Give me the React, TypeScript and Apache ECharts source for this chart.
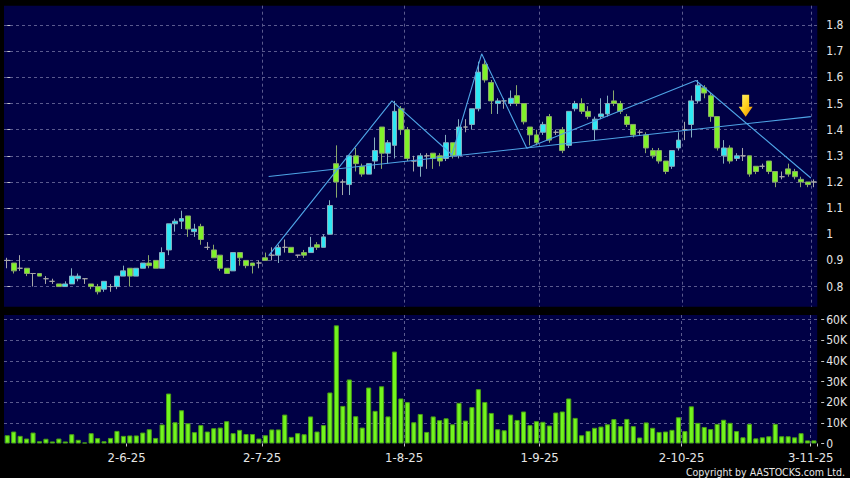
import React, { useEffect, useRef } from 'react';
import * as echarts from 'echarts';

// ---------- data ----------
const dates: string[] = [
  '6-5-25', '7-5-25', '8-5-25', '9-5-25', '12-5-25', '13-5-25', '14-5-25', '15-5-25', '16-5-25', '19-5-25',
  '20-5-25', '21-5-25', '22-5-25', '23-5-25', '26-5-25', '27-5-25', '28-5-25', '29-5-25', '30-5-25',
  '2-6-25', '3-6-25', '4-6-25', '5-6-25', '6-6-25', '9-6-25', '10-6-25', '11-6-25', '12-6-25', '13-6-25',
  '16-6-25', '17-6-25', '18-6-25', '19-6-25', '20-6-25', '23-6-25', '24-6-25', '25-6-25', '26-6-25', '27-6-25', '30-6-25',
  '2-7-25', '3-7-25', '4-7-25', '7-7-25', '8-7-25', '9-7-25', '10-7-25', '11-7-25', '14-7-25', '15-7-25',
  '16-7-25', '17-7-25', '18-7-25', '21-7-25', '22-7-25', '23-7-25', '24-7-25', '25-7-25', '28-7-25', '29-7-25', '30-7-25', '31-7-25',
  '1-8-25', '4-8-25', '5-8-25', '6-8-25', '7-8-25', '8-8-25', '11-8-25', '12-8-25', '13-8-25', '14-8-25',
  '15-8-25', '18-8-25', '19-8-25', '20-8-25', '21-8-25', '22-8-25', '25-8-25', '26-8-25', '27-8-25', '28-8-25', '29-8-25',
  '1-9-25', '2-9-25', '3-9-25', '4-9-25', '5-9-25', '8-9-25', '9-9-25', '10-9-25', '11-9-25', '12-9-25',
  '15-9-25', '16-9-25', '17-9-25', '18-9-25', '19-9-25', '22-9-25', '23-9-25', '24-9-25', '25-9-25', '26-9-25', '29-9-25', '30-9-25',
  '2-10-25', '3-10-25', '6-10-25', '8-10-25', '9-10-25', '10-10-25', '13-10-25', '14-10-25', '15-10-25', '16-10-25',
  '17-10-25', '20-10-25', '21-10-25', '22-10-25', '23-10-25', '24-10-25', '27-10-25', '28-10-25', '30-10-25', '31-10-25',
  '3-11-25',
];

const tickDates: string[] = ['2-6-25', '2-7-25', '1-8-25', '1-9-25', '2-10-25', '3-11-25'];

const opens: number[] = [
  0.90, 0.89, 0.87, 0.87, 0.85, 0.85, 0.83, 0.82, 0.81, 0.80,
  0.81, 0.83, 0.83, 0.81, 0.80, 0.79, 0.80, 0.80, 0.84, 0.87,
  0.84, 0.87, 0.89, 0.90, 0.87, 0.94, 1.04, 1.05, 1.07, 1.01,
  1.03, 0.95, 0.94, 0.92, 0.87, 0.86, 0.93, 0.90, 0.89, 0.89,
  0.91, 0.92, 0.92, 0.95, 0.95, 0.92, 0.93, 0.93, 0.96, 0.95,
  1.00, 1.27, 1.20, 1.19, 1.30, 1.26, 1.23, 1.28, 1.41, 1.31,
  1.34, 1.48, 1.40, 1.28, 1.26, 1.30, 1.31, 1.30, 1.29, 1.35,
  1.30, 1.41, 1.42, 1.48, 1.65, 1.58, 1.50, 1.51, 1.50, 1.53,
  1.50, 1.41, 1.38, 1.39, 1.45, 1.39, 1.40, 1.34, 1.48, 1.50,
  1.47, 1.40, 1.45, 1.46, 1.51, 1.50, 1.45, 1.42, 1.39, 1.38,
  1.32, 1.32, 1.28, 1.26, 1.33, 1.40, 1.42, 1.51, 1.56, 1.53,
  1.45, 1.30, 1.33, 1.29, 1.30, 1.30, 1.26, 1.26, 1.28, 1.24,
  1.22, 1.25, 1.24, 1.21, 1.20, 1.20,
];

const closes: number[] = [
  0.90, 0.86, 0.87, 0.85, 0.85, 0.84, 0.83, 0.82, 0.80, 0.81,
  0.84, 0.84, 0.83, 0.80, 0.78, 0.82, 0.80, 0.84, 0.86, 0.84,
  0.87, 0.89, 0.88, 0.87, 0.93, 1.04, 1.05, 1.06, 1.02, 1.02,
  0.98, 0.95, 0.91, 0.87, 0.85, 0.93, 0.91, 0.88, 0.88, 0.89,
  0.90, 0.92, 0.95, 0.95, 0.93, 0.92, 0.92, 0.95, 0.95, 0.99,
  1.11, 1.20, 1.20, 1.30, 1.27, 1.23, 1.27, 1.32, 1.31, 1.35,
  1.47, 1.40, 1.29, 1.28, 1.30, 1.30, 1.29, 1.28, 1.35, 1.30,
  1.41, 1.41, 1.48, 1.62, 1.59, 1.51, 1.51, 1.51, 1.52, 1.50,
  1.43, 1.38, 1.35, 1.42, 1.36, 1.39, 1.32, 1.47, 1.50, 1.47,
  1.45, 1.44, 1.46, 1.50, 1.50, 1.47, 1.42, 1.38, 1.39, 1.33,
  1.30, 1.28, 1.24, 1.32, 1.36, 1.40, 1.51, 1.57, 1.54, 1.45,
  1.33, 1.33, 1.28, 1.30, 1.30, 1.23, 1.24, 1.26, 1.24, 1.20,
  1.22, 1.23, 1.22, 1.20, 1.19, 1.20,
];

const lows: number[] = [
  0.87, 0.85, 0.86, 0.84, 0.80, 0.84, 0.81, 0.81, 0.80, 0.80,
  0.81, 0.82, 0.81, 0.79, 0.77, 0.78, 0.78, 0.79, 0.84, 0.80,
  0.84, 0.87, 0.87, 0.87, 0.87, 0.92, 1.01, 1.02, 0.99, 0.99,
  0.96, 0.94, 0.91, 0.86, 0.85, 0.86, 0.88, 0.87, 0.85, 0.87,
  0.90, 0.90, 0.89, 0.93, 0.93, 0.91, 0.91, 0.93, 0.94, 0.95,
  1.00, 1.14, 1.15, 1.15, 1.24, 1.22, 1.23, 1.25, 1.25, 1.27,
  1.29, 1.38, 1.28, 1.24, 1.22, 1.25, 1.25, 1.26, 1.28, 1.29,
  1.29, 1.39, 1.40, 1.47, 1.58, 1.46, 1.46, 1.48, 1.49, 1.49,
  1.42, 1.34, 1.34, 1.38, 1.35, 1.38, 1.31, 1.33, 1.47, 1.46,
  1.44, 1.36, 1.44, 1.45, 1.49, 1.46, 1.41, 1.37, 1.38, 1.31,
  1.29, 1.27, 1.23, 1.25, 1.32, 1.36, 1.37, 1.50, 1.52, 1.43,
  1.32, 1.27, 1.27, 1.28, 1.28, 1.22, 1.23, 1.25, 1.23, 1.18,
  1.21, 1.22, 1.21, 1.18, 1.18, 1.18,
];

const highs: number[] = [
  0.91, 0.89, 0.92, 0.87, 0.85, 0.85, 0.84, 0.83, 0.81, 0.82,
  0.87, 0.85, 0.83, 0.81, 0.81, 0.82, 0.81, 0.84, 0.88, 0.87,
  0.87, 0.89, 0.92, 0.90, 0.95, 1.04, 1.06, 1.09, 1.07, 1.04,
  1.04, 0.97, 0.96, 0.92, 0.87, 0.93, 0.93, 0.90, 0.89, 0.90,
  0.93, 0.95, 0.96, 0.98, 0.95, 0.92, 0.94, 0.99, 0.97, 1.00,
  1.13, 1.34, 1.21, 1.30, 1.33, 1.27, 1.27, 1.37, 1.41, 1.36,
  1.51, 1.49, 1.41, 1.30, 1.31, 1.31, 1.31, 1.31, 1.38, 1.35,
  1.44, 1.44, 1.48, 1.66, 1.67, 1.59, 1.52, 1.52, 1.55, 1.57,
  1.50, 1.41, 1.40, 1.43, 1.46, 1.40, 1.41, 1.47, 1.51, 1.52,
  1.49, 1.45, 1.52, 1.53, 1.55, 1.51, 1.46, 1.42, 1.40, 1.39,
  1.33, 1.33, 1.28, 1.32, 1.39, 1.43, 1.53, 1.59, 1.57, 1.54,
  1.45, 1.36, 1.34, 1.31, 1.33, 1.30, 1.26, 1.27, 1.28, 1.24,
  1.24, 1.27, 1.25, 1.22, 1.20, 1.21,
];

const volumes: number[] = [
  4000, 5800, 3700, 2400, 5300, 1100, 2300, 1000, 2400, 1000,
  4500, 1800, 500, 5000, 2600, 1100, 2700, 6100, 3700, 3900,
  3900, 5300, 6900, 2700, 9200, 24200, 10300, 16100, 9800, 5500,
  8900, 5800, 7400, 7700, 10800, 5000, 6600, 4600, 4600, 2400,
  4000, 6800, 6800, 14000, 3200, 5000, 4500, 13100, 5800, 8900,
  24700, 57200, 18200, 31000, 13200, 7700, 27100, 15800, 27700, 13100,
  44500, 21800, 20000, 10300, 14300, 5600, 13100, 11300, 12200, 9300,
  19700, 11100, 17600, 26300, 20100, 14800, 6900, 6400, 14000, 11400,
  15500, 8900, 10800, 10500, 8700, 15000, 15500, 21800, 12400, 4000,
  6100, 7600, 8200, 9300, 11800, 8400, 11900, 8400, 2900, 10200,
  7600, 5600, 5800, 6600, 12700, 6000, 18000, 10000, 8000, 7000,
  9500, 11500, 10000, 6000, 3000, 9500, 2500, 3000, 3500, 9500,
  3500, 3500, 3000, 5000, 1500, 1500,
];

const priceTicks: number[] = [0.8, 0.9, 1, 1.1, 1.2, 1.3, 1.4, 1.5, 1.6, 1.7, 1.8];
const volumeTicks: number[] = [0, 10000, 20000, 30000, 40000, 50000, 60000];
const volumeTickLabels: string[] = ['0', '10K', '20K', '30K', '40K', '50K', '60K'];

// trend lines, in [bar index, price]
const supportLine: number[][] = [[40.5, 1.221], [124.5, 1.45]];
const zigzagLine: number[][] = [
  [40.5, 0.918], [59.6, 1.51], [68.9, 1.304], [73.5, 1.69], [80.5, 1.329], [106.7, 1.588], [124.5, 1.215],
];
const arrowPoint: number[] = [114.4, 1.491];

// ---------- styles ----------
const NAVY = '#000045';
const GRID_LINE = { color: '#5a5a8e', type: [3, 3] as number[], width: 1 };
const UP = '#2ee8f4';
const UP_BORDER = '#86aebf';
const DOWN = '#80f22a';
const DOWN_BORDER = '#8aa86a';
const DOJI = '#a8a8a8';
const TREND = '#4ea4e6';
const FONT = "'DejaVu Sans Condensed', 'DejaVu Sans', sans-serif";
const TEXT = '#e6e6e6';
const ARROW = 'path://M10,0L30,0L30,35L40,35L20,65L0,35L10,35Z';

const tickSet = new Set(tickDates);
const isTickIndex = (index: number) => tickSet.has(dates[index]);

function buildOption() {
  const candles = dates.map((_, i) => {
    const v = [opens[i], closes[i], lows[i], highs[i]];
    if (opens[i] === closes[i]) {
      return { value: v, itemStyle: { borderColor: DOJI, borderColor0: DOJI, borderColorDoji: DOJI } };
    }
    return { value: v };
  });

  return {
    animation: false,
    backgroundColor: '#000000',
    grid: [
      { left: 4, right: 32.7, top: 5.7, height: 301, show: true, backgroundColor: NAVY, borderWidth: 0 },
      { left: 4, right: 32.7, top: 315, height: 128.5, show: true, backgroundColor: NAVY, borderWidth: 0 },
    ],
    xAxis: [
      {
        type: 'category', gridIndex: 0, data: dates, boundaryGap: true,
        axisLine: { show: false }, axisTick: { show: false }, axisLabel: { show: false },
        splitLine: { show: true, interval: isTickIndex, showMinLine: false, showMaxLine: false, lineStyle: GRID_LINE },
      },
      {
        type: 'category', gridIndex: 1, data: dates, boundaryGap: true, offset: 3.5,
        axisLine: { show: false },
        axisTick: { show: true, interval: isTickIndex, length: 3, lineStyle: { color: '#c8c8c8' } },
        axisLabel: {
          show: true, interval: isTickIndex, margin: 4, color: TEXT, fontSize: 13, fontFamily: FONT,
          lineHeight: 13, padding: [0, 6.46, 0, 0],
        },
        splitLine: { show: true, interval: isTickIndex, showMinLine: false, showMaxLine: false, lineStyle: GRID_LINE },
      },
      { type: 'value', gridIndex: 0, min: -0.5, max: 125.5, show: false },
    ],
    yAxis: [
      {
        type: 'value', gridIndex: 0, position: 'right', offset: 4,
        min: 0.723, max: 1.874, splitNumber: 11, minInterval: 0.1, maxInterval: 0.1,
        axisLine: { show: false },
        axisTick: { show: true, length: 3, lineStyle: { color: '#c8c8c8' } },
        axisLabel: {
          show: true, margin: 5, color: TEXT, fontSize: 12, fontFamily: FONT,
          showMinLabel: false, showMaxLabel: false,
          formatter: (v: number) => {
            const t = priceTicks.find((p) => Math.abs(p - v) < 1e-6);
            return t === undefined ? '' : String(t);
          },
        },
        splitLine: { show: true, showMinLine: false, showMaxLine: false, lineStyle: GRID_LINE },
      },
      {
        type: 'value', gridIndex: 1, position: 'right', offset: 4,
        min: 0, max: 62200, splitNumber: 6, minInterval: 10000, maxInterval: 10000,
        axisLine: { show: false },
        axisTick: { show: true, length: 3, lineStyle: { color: '#c8c8c8' } },
        axisLabel: {
          show: true, margin: 5, color: TEXT, fontSize: 12, fontFamily: FONT,
          showMaxLabel: false,
          formatter: (v: number) => {
            const k = volumeTicks.findIndex((p) => Math.abs(p - v) < 1e-6);
            return k < 0 ? '' : volumeTickLabels[k];
          },
        },
        splitLine: { show: true, showMinLine: false, showMaxLine: false, lineStyle: GRID_LINE },
      },
    ],
    series: [
      {
        type: 'candlestick', xAxisIndex: 0, yAxisIndex: 0, data: candles, barWidth: 5.4,
        itemStyle: {
          color: UP, color0: DOWN, borderColor: UP_BORDER, borderColor0: DOWN_BORDER,
          borderColorDoji: DOJI, borderWidth: 1,
        },
      },
      {
        type: 'bar', xAxisIndex: 1, yAxisIndex: 1, data: volumes, barWidth: 5.1,
        itemStyle: { color: '#72f51e', borderColor: '#4a9e16', borderWidth: 1 },
      },
      {
        type: 'line', xAxisIndex: 2, yAxisIndex: 0, data: supportLine, symbol: 'none',
        lineStyle: { color: TREND, width: 1.1 }, z: 5, silent: true,
      },
      {
        type: 'line', xAxisIndex: 2, yAxisIndex: 0, data: zigzagLine, symbol: 'none',
        lineStyle: { color: TREND, width: 1.1 }, z: 5, silent: true,
        markPoint: {
          silent: true,
          label: { show: false },
          data: [
            {
              coord: arrowPoint, symbol: ARROW, symbolSize: [14, 22],
              itemStyle: {
                color: new echarts.graphic.LinearGradient(0, 0, 1, 1, [
                  { offset: 0, color: '#fff27a' },
                  { offset: 0.5, color: '#ffd21c' },
                  { offset: 1, color: '#e88600' },
                ]),
              },
            },
          ],
        },
      },
    ],
    graphic: [
      {
        type: 'text', right: 5, top: 466,
        style: { text: 'Copyright by AASTOCKS.com Ltd.', fill: TEXT, fontSize: 10.5, fontFamily: FONT },
      },
    ],
  };
}

export default function App() {
  const ref = useRef<HTMLDivElement>(null);
  useEffect(() => {
    document.body.style.margin = '0';
    document.body.style.background = '#000';
    const chart = echarts.init(ref.current as HTMLDivElement, null, { renderer: 'svg', width: 850, height: 478 });
    chart.setOption(buildOption() as any);
    return () => chart.dispose();
  }, []);
  return <div ref={ref} style={{ position: 'fixed', left: 0, top: 0, width: 850, height: 478, background: '#000' }} />;
}
